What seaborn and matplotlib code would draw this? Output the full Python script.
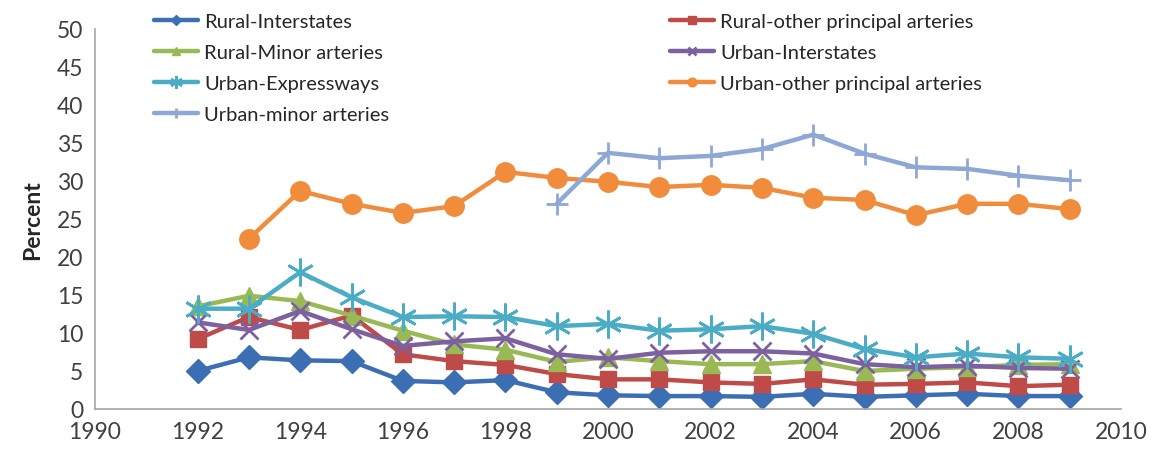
import numpy as np
import pandas as pd
import matplotlib
matplotlib.use("Agg")
import matplotlib.pyplot as plt
import seaborn as sns

sns.set_style("white")
plt.rcParams['font.family'] = ['Lato', 'DejaVu Sans']

# data (percent)
years = list(range(1992, 2010))
rural_interstates = [5.0, 6.8, 6.4, 6.3, 3.7, 3.5, 3.8, 2.2, 1.8, 1.7, 1.7, 1.6, 2.0, 1.6, 1.8, 2.0, 1.7, 1.7]
rural_other = [9.2, 12.1, 10.4, 12.3, 7.2, 6.3, 5.8, 4.6, 3.9, 3.9, 3.5, 3.3, 3.9, 3.2, 3.3, 3.5, 3.0, 3.2]
rural_minor = [13.5, 14.9, 14.2, 12.3, 10.3, 8.5, 7.8, 6.2, 6.8, 6.3, 5.9, 5.9, 6.3, 5.0, 5.3, 5.5, 5.8, 5.9]
urban_interstates = [11.4, 10.4, 12.9, 10.5, 8.3, 8.9, 9.3, 7.2, 6.6, 7.4, 7.6, 7.6, 7.3, 5.9, 5.5, 5.7, 5.4, 5.3]
urban_expressways = [13.2, 13.2, 18.0, 14.7, 12.1, 12.2, 12.1, 10.9, 11.2, 10.3, 10.5, 10.9, 9.9, 7.9, 6.8, 7.3, 6.8, 6.6]

years_uop = list(range(1993, 2010))
urban_other = [22.4, 28.7, 27.0, 25.8, 26.7, 31.2, 30.4, 29.9, 29.2, 29.5, 29.1, 27.8, 27.5, 25.5, 27.0, 27.0, 26.3]

years_umin = list(range(1999, 2010))
urban_minor = [27.0, 33.7, 33.0, 33.3, 34.2, 36.1, 33.6, 31.8, 31.6, 30.7, 30.1]

series = [
    ("Rural-Interstates", years, rural_interstates, "#3C6EB4", "D", 12, 1),
    ("Rural-other principal arteries", years, rural_other, "#BE4B48", "s", 12, 1),
    ("Rural-Minor arteries", years, rural_minor, "#98B954", "^", 13, 1),
    ("Urban-Interstates", years, urban_interstates, "#7D60A0", "x", 13, 2),
    ("Urban-Expressways", years, urban_expressways, "#4BACC6", (6, 2, 0), 20, 2),
    ("Urban-other principal arteries", years_uop, urban_other, "#F08C3C", "o", 14, 1),
    ("Urban-minor arteries", years_umin, urban_minor, "#8EA8D6", "+", 16, 2),
]

fig = plt.figure(figsize=(11.58, 4.6), dpi=100)
ax = fig.add_axes([95 / 1158, 50 / 460, (1121 - 95) / 1158, 380 / 460])

for name, xs, ys, col, mk, ms, mew in series:
    sns.lineplot(x=xs, y=ys, ax=ax, color=col, marker=mk, markersize=ms,
                 markeredgecolor=col, markeredgewidth=mew, linewidth=3.2, label=name)

ax.set_xlim(1990, 2010)
ax.set_ylim(0, 50)
ax.set_xticks(range(1990, 2011, 2))
ax.set_yticks(range(0, 51, 5))
ax.tick_params(axis='both', direction='out', length=5, width=1, color='#A6A6A6',
               labelsize=16.5, labelcolor='#404040')
for s in ['top', 'right']:
    ax.spines[s].set_visible(False)
for s in ['left', 'bottom']:
    ax.spines[s].set_color('#A6A6A6')
    ax.spines[s].set_linewidth(1.2)
ax.set_ylabel("Percent", fontsize=16.5, fontweight='bold', labelpad=10)

handles, labels = ax.get_legend_handles_labels()
ax.get_legend().remove()
order = [0, 2, 4, 6, 1, 3, 5]
fig.legend([handles[i] for i in order], [labels[i] for i in order],
           loc='upper left', bbox_to_anchor=(136 / 1158, 1 + 4 / 460), ncol=2,
           frameon=False, fontsize=14.5, handlelength=2.2, handletextpad=0.3,
           labelspacing=0.68, columnspacing=13.9, markerscale=0.45)

plt.savefig("out.png", dpi=100)
